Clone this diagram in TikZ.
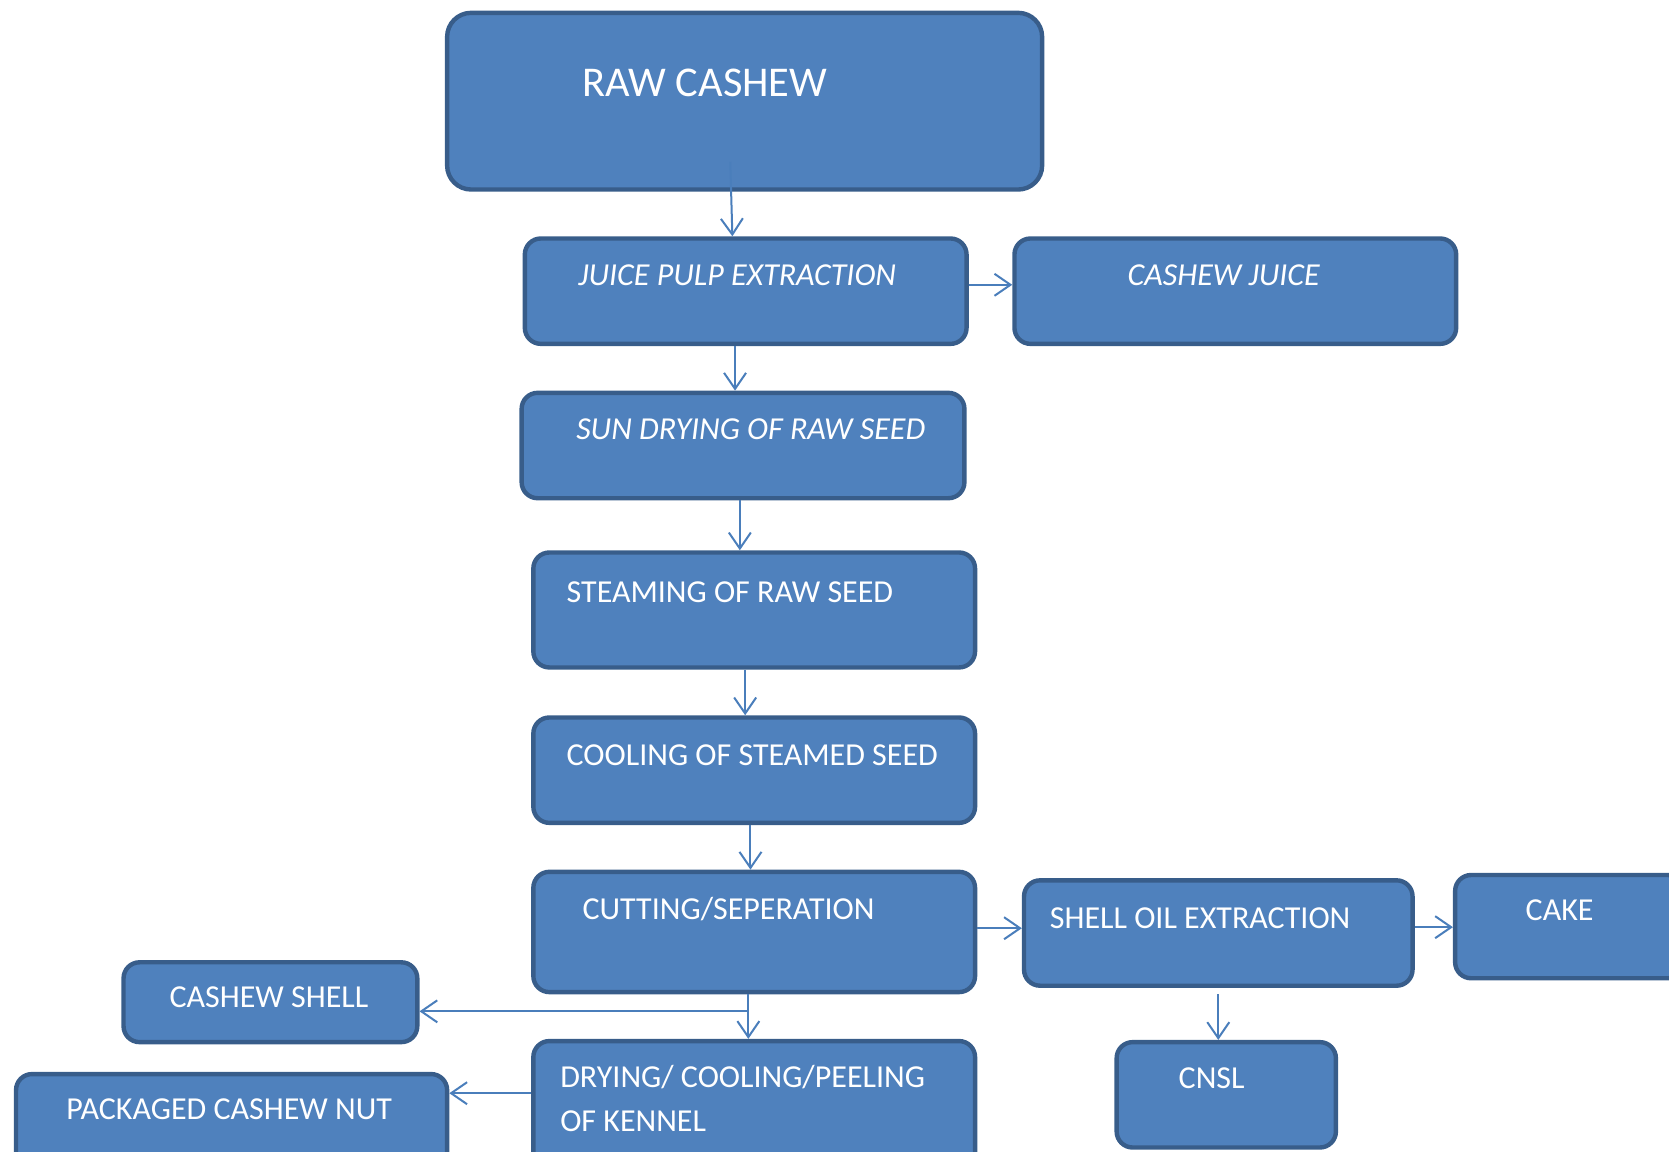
\documentclass[tikz,border=0pt]{standalone}
\usepackage{fontspec}
\setmainfont{Carlito}
\usetikzlibrary{arrows.meta}
\definecolor{boxfill}{HTML}{4F81BD}
\definecolor{boxline}{HTML}{385D8A}
\definecolor{flowline}{HTML}{4A7EBB}
\newcommand{\px}{0.5322pt}

\begin{document}
\begin{tikzpicture}[x=\px,y=-\px,
	box/.style={draw=boxline,fill=boxfill,line width=2.2pt,rounded corners=8pt,anchor=north west,inner sep=0pt},
	txt/.style={text=white,font=\fontsize{16}{19}\selectfont,anchor=base west,inner sep=0pt},
	flow/.style={draw=flowline,line width=1pt,-{Straight Barb[length=8pt,width=11pt]}}]

			\useasboundingbox (0,0) rectangle (1568,1082);

			% main line
			\node[box,minimum width=559*\px,minimum height=166*\px,rounded corners=12pt] (raw) at (418,10) {};
			\node[box,minimum width=415*\px,minimum height=99*\px] (juice) at (491,222) {};
			\node[box,minimum width=416*\px,minimum height=99*\px] (sun) at (488,367) {};
			\node[box,minimum width=415*\px,minimum height=108*\px] (steam) at (499,517) {};
			\node[box,minimum width=415*\px,minimum height=99*\px] (cool) at (499,672) {};
			\node[box,minimum width=415*\px,minimum height=113*\px] (cut) at (499,817) {};
			\node[box,minimum width=415*\px,minimum height=124*\px] (dry) at (499,976) {};

			% side products
			\node[box,minimum width=415*\px,minimum height=99*\px] (cjuice) at (951,222) {};
			\node[box,minimum width=365*\px,minimum height=99*\px] (oil) at (960,825) {};
			\node[box,minimum width=215*\px,minimum height=97*\px] (cake) at (1365,820) {};
			\node[box,minimum width=206*\px,minimum height=99*\px] (cnsl) at (1047,977) {};
			\node[box,minimum width=276*\px,minimum height=75*\px] (shell) at (114,902) {};
			\node[box,minimum width=405*\px,minimum height=93*\px] (pack) at (13,1007) {};

			\node[txt,font=\fontsize{21.2}{25}\selectfont] (raw-t) at (547,91) {RAW CASHEW};
			\node[txt,font=\fontsize{16}{19}\selectfont\itshape] (juice-t) at (543,268) {JUICE PULP EXTRACTION};
			\node[txt,font=\fontsize{16}{19}\selectfont\itshape] (sun-t) at (541,413) {SUN DRYING OF RAW SEED};
			\node[txt] (steam-t) at (532,566) {STEAMING OF RAW SEED};
			\node[txt] (cool-t) at (532,719) {COOLING OF STEAMED SEED};
			\node[txt] (cut-t) at (547,864) {CUTTING/SEPERATION};
			\node[txt,anchor=north west,align=left,font=\fontsize{16}{22.4}\selectfont] (dry-t) at (526,1000) {DRYING/ COOLING/PEELING\\OF KENNEL};
			\node[txt,font=\fontsize{16}{19}\selectfont\itshape] (cjuice-t) at (1059,268) {CASHEW JUICE};
			\node[txt] (oil-t) at (986,872) {SHELL OIL EXTRACTION};
			\node[txt] (cake-t) at (1433,865) {CAKE};
			\node[txt] (cnsl-t) at (1107,1023) {CNSL};
			\node[txt] (shell-t) at (159,947) {CASHEW SHELL};
			\node[txt] (pack-t) at (62,1052) {PACKAGED CASHEW NUT};

			\draw[flow] ([shift={(-13.5,-28)}]raw.south) -- ([shift={(-12.5,0)}]juice.north);
			\draw[flow] ([shift={(-10,0)}]juice.south) -- ([shift={(-10,0)}]juice.south |- sun.north);
			\draw[flow] ([shift={(0,-6)}]juice.east) -- ([shift={(0,-6)}]juice.east -| cjuice.west);
			\draw[flow] ([shift={(-3,0)}]sun.south) -- ([shift={(-3,0)}]sun.south |- steam.north);
			\draw[flow] ([shift={(-8.5,0)}]steam.south) -- ([shift={(-8.5,0)}]steam.south |- cool.north);
			\draw[flow] ([shift={(-3.5,0)}]cool.south) -- ([shift={(-3.5,0)}]cool.south |- cut.north);
			\draw[flow] ([shift={(0,-3.5)}]cut.east) -- ([shift={(0,-3.5)}]cut.east -| oil.west);
			\draw[flow] ([shift={(0,-5.5)}]oil.east) -- ([shift={(0,-5.5)}]oil.east -| cake.west);
			\draw[flow] ([shift={(0,6)}]oil.south) -- (oil.south |- cnsl.north);
			\draw[flow] ([shift={(-5.5,0)}]cut.south) -- ([shift={(-5.5,0)}]cut.south |- dry.north);
			\coordinate (split) at ([shift={(-5.5,16)}]cut.south);
			\draw[flow] (split) -- (split -| shell.east);
			\draw[flow] ([shift={(0,-13)}]dry.west) -- ([shift={(0,-13)}]dry.west -| pack.east);

\end{tikzpicture}
\end{document}
